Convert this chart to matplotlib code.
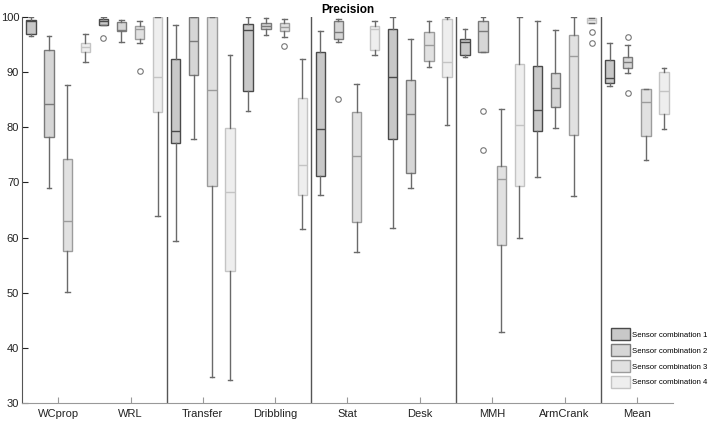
import numpy as np
import matplotlib
matplotlib.use("Agg")
import matplotlib.pyplot as plt
from matplotlib.patches import Patch

plt.rcParams['font.family'] = ['Liberation Sans', 'DejaVu Sans']

activities = ["WCprop", "WRL", "Transfer", "Dribbling", "Stat", "Desk", "MMH", "ArmCrank", "Mean"]
combos = ["Sensor combination 1", "Sensor combination 2", "Sensor combination 3", "Sensor combination 4"]

# per activity: [whislo, q1, med, q3, whishi] for each sensor combination
combo1 = [
    [96.6, 96.9, 99.2, 99.5, 100.0],
    [98.5, 98.5, 99.2, 99.6, 100.0],
    [59.3, 77.2, 79.4, 92.3, 98.5],
    [83.0, 86.6, 97.6, 98.7, 100.0],
    [67.8, 71.2, 79.7, 93.7, 97.5],
    [61.8, 77.8, 89.1, 97.9, 100.0],
    [92.8, 93.1, 95.4, 96.0, 97.8],
    [70.9, 79.3, 83.1, 91.2, 99.2],
    [87.4, 88.0, 89.0, 92.2, 95.2],
]
combo2 = [
    [69.0, 78.2, 84.3, 94.0, 96.6],
    [95.4, 97.5, 97.6, 99.1, 99.5],
    [77.9, 89.4, 95.7, 100.0, 100.0],
    [96.7, 97.8, 98.4, 98.9, 99.8],
    [95.4, 96.0, 97.3, 99.3, 99.6],
    [68.9, 71.7, 82.4, 88.5, 96.1],
    [93.6, 93.6, 97.5, 99.3, 100.0],
    [79.8, 83.6, 87.2, 89.9, 97.6],
    [89.9, 90.8, 91.9, 92.7, 94.9],
]
combo3 = [
    [50.1, 57.6, 63.0, 74.2, 87.7],
    [95.2, 96.0, 97.8, 98.4, 99.3],
    [34.7, 69.4, 86.8, 100.0, 100.0],
    [96.3, 97.5, 98.2, 99.0, 99.6],
    [57.3, 62.9, 74.8, 82.8, 87.8],
    [90.9, 92.1, 94.9, 97.2, 99.2],
    [42.9, 58.7, 70.7, 73.0, 83.3],
    [67.5, 78.6, 93.0, 96.7, 100.0],
    [74.1, 78.4, 84.5, 86.9, 87.0],
]
combo4 = [
    [91.9, 93.6, 94.6, 95.2, 97.0],
    [63.9, 82.8, 89.1, 100.0, 100.0],
    [34.1, 53.9, 68.3, 79.9, 93.1],
    [61.6, 67.7, 73.1, 85.3, 92.4],
    [93.1, 94.0, 97.8, 98.4, 99.2],
    [80.4, 89.1, 91.8, 99.6, 100.0],
    [59.9, 69.4, 80.5, 91.4, 100.0],
    [99.0, 99.0, 99.5, 99.8, 99.9],
    [79.6, 82.5, 86.6, 90.0, 90.8],
]
# outliers per combination: (activity index, value)
outliers1 = [(1, 96.2)]
outliers2 = [(4, 85.1), (6, 83.0), (6, 75.9), (8, 96.4), (8, 86.3)]
outliers3 = [(1, 90.2), (3, 94.7)]
outliers4 = [(7, 97.3), (7, 95.2)]

all_data = [combo1, combo2, combo3, combo4]
all_out = [outliers1, outliers2, outliers3, outliers4]

faces = ["#c8c8c8", "#d6d6d6", "#e1e1e1", "#eeeeee"]
edges = ["#4a4a4a", "#7a7a7a", "#9c9c9c", "#c4c4c4"]
offsets = [-0.375, -0.125, 0.125, 0.375]

fig = plt.figure(figsize=(7.14, 4.26), dpi=100)
ax = fig.add_axes([22 / 714, 23 / 426, 651 / 714, 386 / 426])

base = np.arange(1, len(activities) + 1)
for c in range(4):
    stats = []
    for i, row in enumerate(all_data[c]):
        fl = [v for (k, v) in all_out[c] if k == i]
        stats.append(dict(whislo=row[0], q1=row[1], med=row[2], q3=row[3],
                          whishi=row[4], fliers=fl))
    ax.bxp(stats, positions=base + offsets[c], widths=0.13, patch_artist=True,
           showfliers=True,
           boxprops=dict(facecolor=faces[c], edgecolor=edges[c], linewidth=1.0),
           medianprops=dict(color=edges[c], linewidth=1.0),
           whiskerprops=dict(color="#6a6a6a", linewidth=1.0),
           capprops=dict(color="#6a6a6a", linewidth=1.0),
           flierprops=dict(marker="o", markersize=4, markerfacecolor="none",
                           markeredgecolor="#777777", markeredgewidth=0.8))

for x in [2.5, 4.5, 6.5, 8.5]:
    ax.axvline(x, color="#555555", linewidth=1.0)

ax.set_xlim(0.5, 9.5)
ax.set_ylim(30, 100)
ax.set_xticks(base)
ax.set_xticklabels(activities, fontsize=8, color="#222222")
ax.set_yticks(np.arange(30, 101, 10))
ax.tick_params(axis="y", labelsize=8, colors="#222222", direction="in", length=4, pad=2)
ax.tick_params(axis="x", direction="in", length=4, color="#999999", pad=4)
for s in ["top", "right"]:
    ax.spines[s].set_visible(False)
ax.spines["left"].set_color("#555555")
ax.spines["bottom"].set_color("#999999")

ax.set_title("Precision", fontsize=8.5, fontweight="bold", pad=3)

handles = [Patch(facecolor=faces[c], edgecolor=edges[c], label=combos[c]) for c in range(4)]
ax.legend(handles=handles, loc="lower left", bbox_to_anchor=(589 / 651, 0.039),
          frameon=False, fontsize=5.6, handlelength=2.4, handleheight=2.0,
          handletextpad=0.3, labelspacing=0.5, borderaxespad=0, borderpad=0)

fig.savefig("out.png", dpi=100)
